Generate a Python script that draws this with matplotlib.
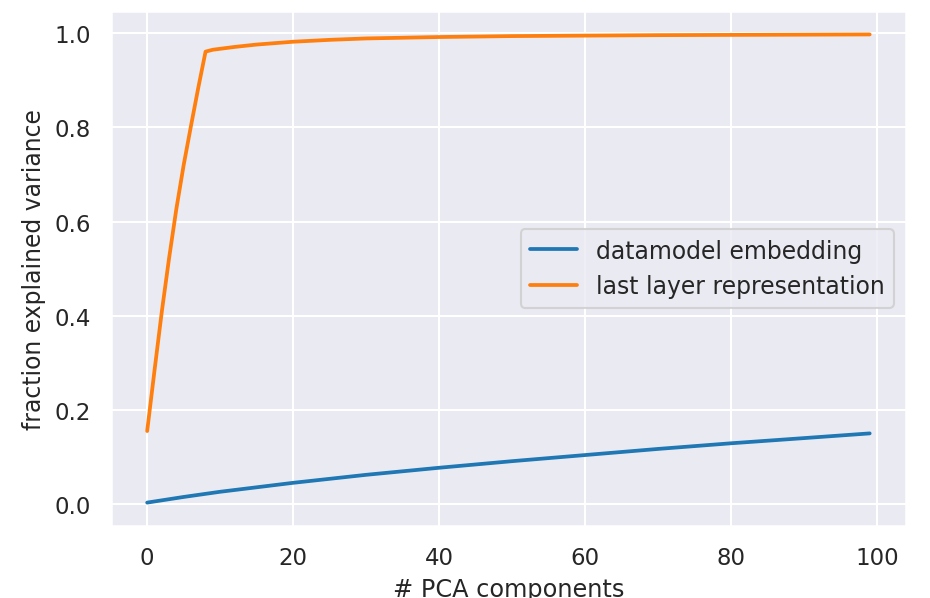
import matplotlib
matplotlib.use('Agg')
import matplotlib.pyplot as plt
import seaborn as sns

# valori
x_emb = [0, 5, 10, 20, 30, 40, 50, 60, 70, 80, 90, 99]
y_emb = [0.003, 0.015, 0.026, 0.045, 0.062, 0.077, 0.091, 0.104, 0.117, 0.129, 0.140, 0.150]

x_last = [0, 1, 2, 3, 4, 5, 6, 7, 8, 9, 10, 12, 15, 20, 25, 30, 40, 50, 60, 70, 80, 90, 99]
y_last = [0.155, 0.283, 0.408, 0.522, 0.627, 0.72, 0.803, 0.884, 0.961, 0.965, 0.967,
          0.971, 0.976, 0.982, 0.986, 0.989, 0.992, 0.994, 0.995, 0.996, 0.9965, 0.997, 0.9975]

sns.set_theme(style='darkgrid')
plt.rcParams['font.family'] = ['DejaVu Sans']

fig = plt.figure(figsize=(6.2, 3.993), dpi=150)
ax = fig.add_axes([0.1194, 0.1202, 0.974 - 0.1194, 0.98 - 0.1202])

ax.plot(x_emb, y_emb, color='#1f77b4', lw=1.8, label='datamodel embedding')
ax.plot(x_last, y_last, color='#ff7f0e', lw=1.8, label='last layer representation')
ax.set_xlabel('# PCA components', fontsize=11.5)
ax.set_ylabel('fraction explained variance', fontsize=11.3)
ax.legend(loc='center right', fontsize=11.3)

fig.savefig('out.png', dpi=150)
